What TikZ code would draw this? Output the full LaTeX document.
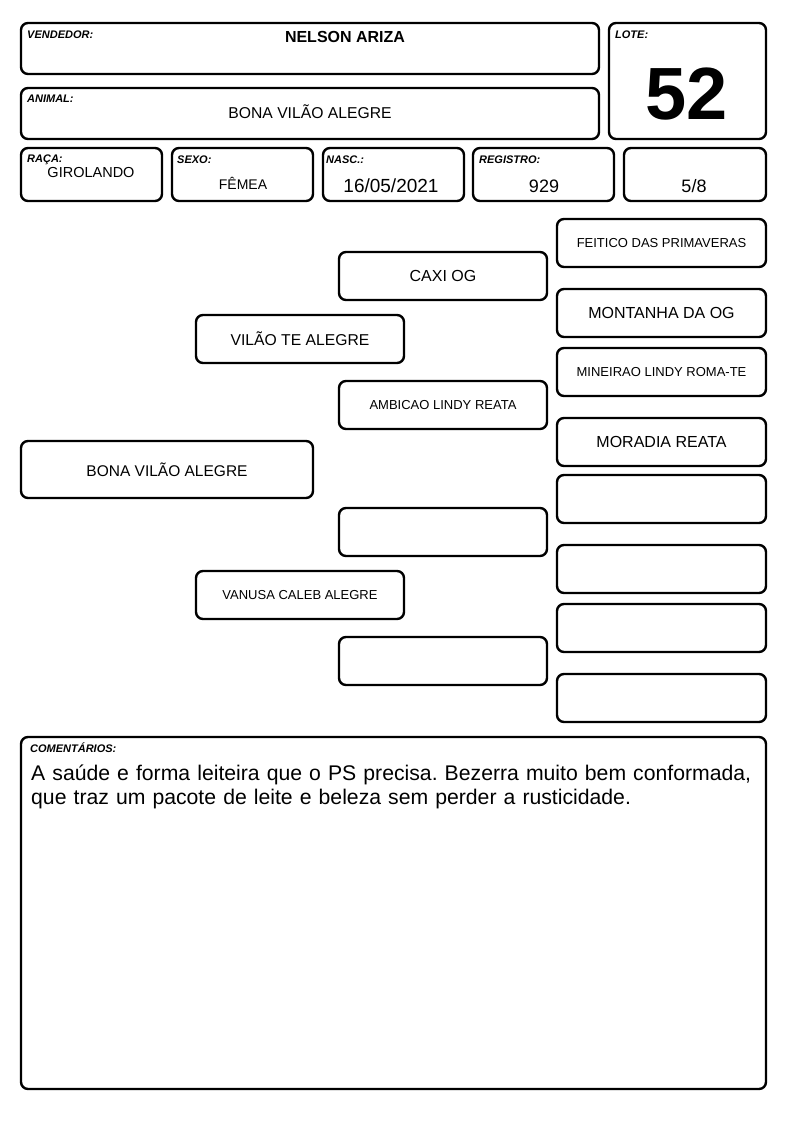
\documentclass[tikz,border=0pt]{standalone}
\usepackage{fontspec}
\setmainfont{Liberation Sans}
\begin{document}
\frenchspacing
\begin{tikzpicture}[x=1pt,y=-1pt,
  box/.style={draw=black,line width=2.4pt,rounded corners=7pt,inner sep=0pt,fill=white},
  lbl/.style={anchor=base west,inner sep=0pt,font=\fontsize{11}{13}\selectfont\bfseries\itshape},
  val/.style={anchor=base,inner sep=0pt}]
\useasboundingbox (0,0) rectangle (794,1123);
% header boxes
\node[box,minimum width=578pt,minimum height=51pt] (vend) at (310,48.5) {};
\node[box,minimum width=578pt,minimum height=51pt] (anim) at (310,113.5) {};
\node[box,minimum width=157pt,minimum height=116pt] (lote) at (687.5,81) {};
\node[box,minimum width=141pt,minimum height=53pt] (raca) at (91.5,174.5) {};
\node[box,minimum width=141pt,minimum height=53pt] (sexo) at (242.5,174.5) {};
\node[box,minimum width=141pt,minimum height=53pt] (nasc) at (393.5,174.5) {};
\node[box,minimum width=141pt,minimum height=53pt] (regi) at (543.5,174.5) {};
\node[box,minimum width=142pt,minimum height=53pt] (grau) at (695,174.5) {};
% labels
\node[lbl] (lvend) at (27,39) {VENDEDOR:};
\node[lbl] (lanim) at (27,103) {ANIMAL:};
\node[lbl] (llote) at (615,39) {LOTE:};
\node[lbl] (lraca) at (27,163) {RAÇA:};
\node[lbl] (lsexo) at (177,164) {SEXO:};
\node[lbl] (lnasc) at (326,164) {NASC.:};
\node[lbl] (lregi) at (479,164) {REGISTRO:};
% values
\node[val,font=\fontsize{16}{18}\selectfont\bfseries] (vvend) at (345,43) {NELSON ARIZA};
\node[val,font=\fontsize{15.7}{18}\selectfont] (vanim) at (310,119) {BONA VILÃO ALEGRE};
\node[val,font=\fontsize{74}{80}\selectfont\bfseries] (vlote) at (687,120) {52};
\node[val,font=\fontsize{14.5}{18}\selectfont] (vraca) at (91,178) {GIROLANDO};
\node[val,font=\fontsize{14}{18}\selectfont] (vsexo) at (243,190) {FÊMEA};
\node[val,font=\fontsize{19}{20}\selectfont] (vnasc) at (391,193) {16/05/2021};
\node[val,font=\fontsize{18}{20}\selectfont] (vregi) at (544,193) {929};
\node[val,font=\fontsize{18}{20}\selectfont] (vgrau) at (694,193) {5/8};
% pedigree
\node[box,minimum width=292pt,minimum height=57pt,font=\fontsize{15.5}{18}\selectfont] (p0) at (167,469.5) {BONA VILÃO ALEGRE};
\node[box,minimum width=208pt,minimum height=48pt,font=\fontsize{15.7}{18}\selectfont] (p1) at (300,339) {VILÃO TE ALEGRE};
\node[box,minimum width=208pt,minimum height=48pt,font=\fontsize{13}{15}\selectfont] (p2) at (300,595) {VANUSA CALEB ALEGRE};
\node[box,minimum width=208pt,minimum height=48pt,font=\fontsize{16}{18}\selectfont] (p11) at (443,276) {CAXI OG};
\node[box,minimum width=208pt,minimum height=48pt,font=\fontsize{13}{15}\selectfont] (p12) at (443,405) {AMBICAO LINDY REATA};
\node[box,minimum width=208pt,minimum height=48pt] (p21) at (443,532) {};
\node[box,minimum width=208pt,minimum height=48pt] (p22) at (443,661) {};
\node[box,minimum width=209pt,minimum height=48pt,font=\fontsize{13}{15}\selectfont] (p111) at (661.5,243) {FEITICO DAS PRIMAVERAS};
\node[box,minimum width=209pt,minimum height=48pt,font=\fontsize{16}{18}\selectfont] (p112) at (661.5,313) {MONTANHA DA OG};
\node[box,minimum width=209pt,minimum height=48pt,font=\fontsize{13}{15}\selectfont] (p121) at (661.5,372) {MINEIRAO LINDY ROMA-TE};
\node[box,minimum width=209pt,minimum height=48pt,font=\fontsize{16}{18}\selectfont] (p122) at (661.5,442) {MORADIA REATA};
\node[box,minimum width=209pt,minimum height=48pt] (p211) at (661.5,499) {};
\node[box,minimum width=209pt,minimum height=48pt] (p212) at (661.5,569) {};
\node[box,minimum width=209pt,minimum height=48pt] (p221) at (661.5,628) {};
\node[box,minimum width=209pt,minimum height=48pt] (p222) at (661.5,698) {};
% comments
\node[box,minimum width=745pt,minimum height=352pt] (com) at (393.5,913) {};
\node[lbl] (lcom) at (30,752) {COMENTÁRIOS:};
\node[anchor=north west,inner sep=0pt,text width=740pt,align=left,font=\fontsize{21.2}{24}\selectfont] (tcom) at (31,765) {A saúde e forma leiteira que o PS precisa. Bezerra muito bem conformada,\\que traz um pacote de leite e beleza sem perder a rusticidade.};
\end{tikzpicture}
\end{document}
